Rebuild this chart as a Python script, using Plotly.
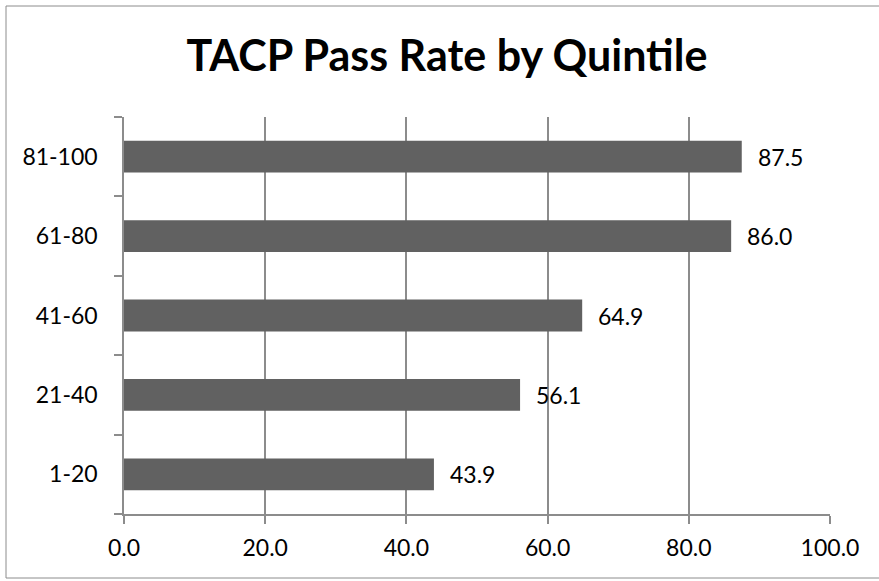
import plotly.graph_objects as go

# Pass rate (%) per quintile band
quintiles = ["1-20", "21-40", "41-60", "61-80", "81-100"]
pass_rates = [43.9, 56.1, 64.9, 86.0, 87.5]
x_ticks = [0, 20, 40, 60, 80, 100]
x_tick_labels = ["0.0", "20.0", "40.0", "60.0", "80.0", "100.0"]

W, H = 879, 581
L, R, T, B = 124, 49, 117, 67
plot_w = W - L - R
plot_h = H - T - B

FONT = "Lato, 'Open Sans', sans-serif"
AXIS_GRAY = "#8c8c8c"

fig = go.Figure(
    go.Bar(
        y=quintiles,
        x=pass_rates,
        orientation="h",
        marker=dict(color="#616161", line=dict(width=0)),
        width=0.4,
        hoverinfo="skip",
    )
)

# Value labels to the right of each bar
for q, v in zip(quintiles, pass_rates):
    fig.add_annotation(
        x=v, y=q, xref="x", yref="y",
        text=f"{v:.1f}", showarrow=False,
        xanchor="left", yanchor="middle", xshift=14,
        font=dict(family=FONT, size=23, color="#000000"),
    )

# Outer chart border (runs past the right edge of the page)
def px_to_paper_x(px):
    return (px - L) / plot_w

def px_to_paper_y(py):
    return (H - B - py) / plot_h

fig.add_shape(
    type="rect", xref="paper", yref="paper",
    x0=px_to_paper_x(6), x1=px_to_paper_x(884),
    y0=px_to_paper_y(578), y1=px_to_paper_y(6),
    line=dict(color="#8c8c8c", width=1), fillcolor="rgba(0,0,0,0)",
    layer="below",
)

fig.update_layout(
    width=W, height=H,
    margin=dict(l=L, r=R, t=T, b=B, pad=0),
    paper_bgcolor="white", plot_bgcolor="white",
    showlegend=False,
    title=dict(
        text="<b>TACP Pass Rate by Quintile</b>",
        x=447 / W, xanchor="center", xref="container",
        y=1 - 56 / H, yanchor="middle", yref="container",
        font=dict(family=FONT, size=43, color="#000000"),
    ),
    xaxis=dict(
        range=[0, 100],
        tickvals=x_ticks, ticktext=x_tick_labels,
        showgrid=True, gridcolor=AXIS_GRAY, gridwidth=1.5,
        showline=True, linecolor=AXIS_GRAY, linewidth=1.5,
        ticks="outside", ticklen=8, tickcolor=AXIS_GRAY, tickwidth=1.5,
        ticklabelstandoff=5,
        tickfont=dict(family=FONT, size=23, color="#000000"),
        zeroline=False, fixedrange=True,
    ),
    yaxis=dict(
        type="category",
        categoryorder="array", categoryarray=quintiles,
        showgrid=False,
        showline=True, linecolor=AXIS_GRAY, linewidth=1.5,
        ticks="outside", ticklen=8, tickcolor=AXIS_GRAY, tickwidth=1.5,
        tickson="boundaries",
        ticklabelstandoff=20,
        tickfont=dict(family=FONT, size=23, color="#000000"),
        zeroline=False, fixedrange=True,
    ),
)

fig.write_html("out.html")
